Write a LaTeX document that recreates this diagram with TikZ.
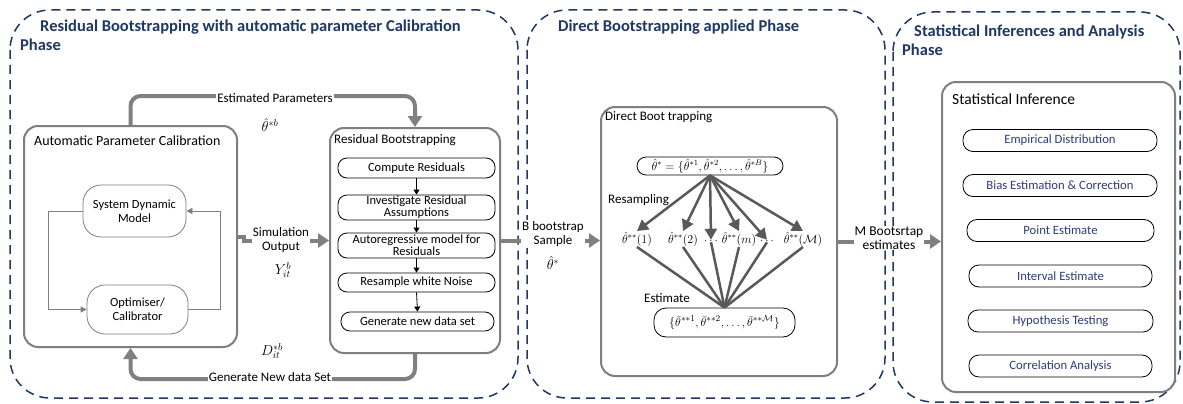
\documentclass[tikz,border=0pt]{standalone}
\usepackage{fontspec}
\setmainfont{Carlito}
\usetikzlibrary{arrows.meta,calc}
\definecolor{navy}{HTML}{1F3864}
\definecolor{boxgray}{HTML}{7F7F7F}
\definecolor{arrgray}{HTML}{808080}
\definecolor{dgray}{HTML}{595959}
\definecolor{itemblue}{HTML}{2E3D78}
\begin{document}
\begin{tikzpicture}[x=1pt,y=-1pt,
  phase/.style={draw=navy,line width=1.5pt,dash pattern=on 9pt off 6pt,rounded corners=40pt},
  ptitle/.style={anchor=west,text=navy,font=\fontsize{16.5}{18}\selectfont\bfseries,inner sep=0pt},
  graybox/.style={draw=boxgray,line width=2pt,rounded corners=14pt,inner sep=0pt},
  boxlabel/.style={anchor=west,font=\fontsize{13}{14}\selectfont,inner sep=0pt},
  pill/.style={draw=black,line width=0.8pt,rounded corners=9pt,inner sep=0pt,align=center,font=\fontsize{12.5}{12}\selectfont},
  sib/.style={draw=black,line width=0.8pt,rounded corners=10pt,inner sep=0pt,text=itemblue,font=\fontsize{12.7}{13}\selectfont},
  softbox/.style={draw=boxgray,line width=0.8pt,rounded corners=18pt,inner sep=0pt,align=center,font=\fontsize{12.5}{14}\selectfont},
  bigarrow/.style={draw=arrgray,line width=4pt,-{Triangle[length=11pt,width=14pt]}},
  thinarrow/.style={draw=boxgray,line width=0.8pt,-{Triangle[length=6pt,width=6pt]}},
  smallarrow/.style={draw=black,line width=0.8pt,-{Triangle[length=5pt,width=6pt]}},
  fanarrow/.style={draw=dgray,line width=2.5pt,-{Triangle[length=11pt,width=12pt]}},
  fanline/.style={draw=dgray,line width=2.5pt},
  lbl/.style={font=\fontsize{13}{14}\selectfont,inner sep=1pt,align=center},
  th/.style={font=\fontsize{12}{13}\selectfont,inner sep=0.5pt},
  bigth/.style={font=\fontsize{14}{15}\selectfont,inner sep=0.5pt}
]
\useasboundingbox[fill=white] (0,0) rectangle (1183,404);

% phases
\draw[phase] (10,10) rectangle (518,398);
\draw[phase] (527,10) rectangle (885,398);
\draw[phase] (893,12) rectangle (1180,402);
\node[ptitle] (t1a) at (40,27) {Residual Bootstrapping with automatic parameter Calibration};
\node[ptitle] (t1b) at (20,45) {Phase};
\node[ptitle] (t2) at (558,27) {Direct Bootstrapping applied Phase};
\node[ptitle] (t3a) at (914,32) {Statistical Inferences and Analysis};
\node[ptitle] (t3b) at (902,50) {Phase};

% Automatic parameter calibration
\node[graybox,minimum width=213pt,minimum height=221pt] (APC) at (130.5,236.5) {};
\node[boxlabel,font=\fontsize{14}{15}\selectfont] (APCl) at (34,141) {Automatic Parameter Calibration};
\node[softbox,minimum width=103pt,minimum height=52pt] (SDM) at (134.5,211) {System Dynamic\\Model};
\node[softbox,minimum width=101pt,minimum height=49pt] (OPT) at (137.5,309.5) {Optimiser/\\Calibrator};
\draw[thinarrow] (SDM.west) -- ++(-34,0) |- (OPT.west);
\draw[thinarrow] (OPT.east) -- ++(32,0) |- (SDM.east);

% Residual bootstrapping
\node[graybox,minimum width=170pt,minimum height=225pt] (RB) at (415,240.5) {};
\node[boxlabel] (RBl) at (334,140) {Residual Bootstrapping};
\node[pill,minimum width=157pt,minimum height=20pt] (CR) at (416.5,168) {Compute Residuals};
\node[pill,minimum width=157pt,minimum height=25pt] (IRA) at (416.5,207.5) {Investigate Residual\\Assumptions};
\node[pill,minimum width=157pt,minimum height=25pt] (AR) at (416.5,245.5) {Autoregressive model for\\Residuals};
\node[pill,minimum width=157pt,minimum height=19pt] (RWN) at (416.5,282.5) {Resample white Noise};
\node[pill,minimum width=153pt,minimum height=19pt] (GND) at (417.5,321.5) {Generate new data set};
\draw[smallarrow] (CR.south) -- (IRA.north);
\draw[smallarrow] (IRA.south) -- (AR.north);
\draw[smallarrow] (AR.south) -- (RWN.north);
\draw[smallarrow] (RWN.south) -- (GND.north);

% loop arrows
\draw[bigarrow,rounded corners=10pt] (APC.north) -- ++(0,-29) -| (RB.north);
\node[lbl,fill=white] (EP) at (275,98) {Estimated Parameters};
\node[bigth] (thb) at (270,125) {$\hat{\theta}^{*b}$};
\draw[bigarrow,rounded corners=10pt] (RB.south) -- ++(0,25) -| (APC.south);
\node[lbl,fill=white] (GNDS) at (270,377) {Generate New data Set};
\node[bigth] (Db) at (272,351) {$D^{*b}_{it}$};
\draw[bigarrow] (APC.east) -- ++(6,0) |- (RB.west);
\node[lbl,fill=white] (SO) at (281,240) {Simulation\\Output};
\node[bigth] (Yb) at (283,270) {$Y^{b}_{it}$};

% Direct boot trapping
\node[graybox,minimum width=236pt,minimum height=269pt] (DB) at (719,241.5) {};
\node[boxlabel] (DBl) at (605,117) {Direct Boot trapping};
\draw[bigarrow] (RB.east) -- (RB.east -| DB.west);
\node[lbl,fill=white] (BS) at (553,234) {B bootstrap\\Sample};
\node[bigth,fill=white] (ths) at (553,263) {$\hat{\theta}^{*}$};

\node[draw=black,line width=0.8pt,rounded corners=9pt,minimum width=146pt,minimum height=18pt,inner sep=0pt,font=\fontsize{11.5}{12}\selectfont] (TH) at (710,166) {$\hat{\theta}^{*}=\{\hat{\theta}^{*1},\hat{\theta}^{*2},\dots,\hat{\theta}^{*B}\}$};
\node[lbl,anchor=west,inner sep=0pt] (RS) at (608,200) {Resampling};
\node[th] (r1) at (637,239) {$\hat{\theta}^{**}(1)$};
\node[th] (r2) at (683,239) {$\hat{\theta}^{**}(2)$};
\node[th] (d1) at (711,241) {$\dots$};
\node[th] (rm) at (739,239) {$\hat{\theta}^{**}(m)$};
\node[th] (d2) at (767,241) {$\dots$};
\node[th] (rM) at (803,239) {$\hat{\theta}^{**}(\mathcal{M})$};
\foreach \n in {r1,r2,d1,rm,d2,rM} \draw[fanarrow] (TH.south) -- (\n.north);
\node[draw=black,line width=0.8pt,rounded corners=12pt,minimum width=141pt,minimum height=29pt,inner sep=0pt,font=\fontsize{12.5}{13}\selectfont] (BT) at (724.5,322.5) {$\{\bar{\theta}^{**1},\bar{\theta}^{**2},\dots,\bar{\theta}^{**\mathcal{M}}\}$};
\foreach \n in {r1,r2,d1,rm,d2,rM} \draw[fanline] (\n.south) -- (BT.north);
\node[lbl,inner sep=0pt] (ES) at (667,298) {Estimate};

% Statistical inference
\node[graybox,minimum width=233pt,minimum height=310pt] (SI) at (1058.5,237) {};
\node[anchor=west,inner sep=0pt,font=\fontsize{15.5}{17}\selectfont] (SIl) at (952,99) {Statistical Inference};
\draw[bigarrow] (DB.east) -- (DB.east -| SI.west);
\node[lbl,fill=white,font=\fontsize{13.5}{14}\selectfont] (MB) at (889,238) {M Bootsrtap\\estimates};
\node[sib,minimum width=194pt,minimum height=22pt] (s1) at (1060,140.5) {Empirical Distribution};
\node[sib,minimum width=194pt,minimum height=22pt] (s2) at (1060,185.5) {Bias Estimation \& Correction};
\node[sib,minimum width=187pt,minimum height=22pt] (s3) at (1060.5,230.5) {Point Estimate};
\node[sib,minimum width=183pt,minimum height=22pt] (s4) at (1060.5,276) {Interval Estimate};
\node[sib,minimum width=185pt,minimum height=22pt] (s5) at (1060.5,321) {Hypothesis Testing};
\node[sib,minimum width=183pt,minimum height=22pt] (s6) at (1060.5,366) {Correlation Analysis};
\end{tikzpicture}
\end{document}
